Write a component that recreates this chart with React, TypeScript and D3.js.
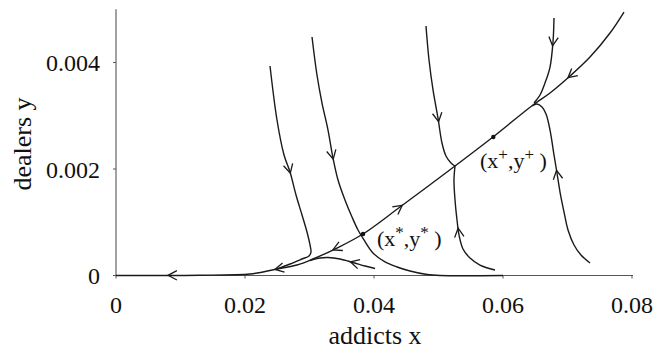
import React from "react";
import * as d3 from "d3";

type P = [number, number];

// trajectories (addicts x, dealers y), ordered in direction of flow where relevant
const separatrix: P[] = [
  [0.07876, 0.004948], [0.07659, 0.004554], [0.07349, 0.004103], [0.07039, 0.003746],
  [0.06729, 0.003427], [0.06465, 0.003202], [0.05845, 0.002601], [0.05256, 0.002056],
  [0.04403, 0.001286], [0.03829, 0.000779], [0.03426, 0.000516], [0.03054, 0.00031],
  [0.02806, 0.000197], [0.02496, 0.000122], [0.02279, 0.000066], [0.02078, 0.000028],
  [0.01302, 0.000004], [0, 0],
];
const trajA: P[] = [
  [0.02388, 0.003934], [0.02496, 0.00292], [0.02605, 0.002263], [0.02698, 0.001944],
  [0.02791, 0.001512], [0.02884, 0.001136], [0.02961, 0.000817], [0.03008, 0.000573],
  [0.03023, 0.000441], [0.02992, 0.000366], [0.02884, 0.00031], [0.02698, 0.000216],
  [0.02496, 0.000122],
];
const trajB: P[] = [
  [0.03039, 0.004479], [0.03116, 0.003765], [0.03194, 0.003239], [0.03287, 0.002732],
  [0.03364, 0.002207], [0.03442, 0.001793], [0.0355, 0.001418], [0.03659, 0.001099],
  [0.03752, 0.000854], [0.03845, 0.000667], [0.03984, 0.000423], [0.04171, 0.000254],
  [0.04357, 0.00016], [0.04558, 0.000085], [0.04822, 0.000019], [0.05023, 0], [0.06, 0],
];
const trajCTop: P[] = [
  [0.04806, 0.004685], [0.04853, 0.004047], [0.04915, 0.003484], [0.04992, 0.002958],
  [0.05054, 0.002488], [0.05116, 0.002244], [0.05194, 0.002113], [0.05256, 0.002056],
];
const trajCBottom: P[] = [
  [0.05876, 0.000103], [0.05643, 0.000197], [0.05488, 0.000329], [0.0538, 0.000498],
  [0.05318, 0.000761], [0.05287, 0.001042], [0.05256, 0.001418], [0.0524, 0.001793],
  [0.05256, 0.002056],
];
const trajDTop: P[] = [
  [0.06791, 0.004836], [0.06775, 0.004385], [0.06729, 0.003915], [0.06651, 0.003615],
  [0.06574, 0.00339], [0.06481, 0.003239],
];
const trajDBottom: P[] = [
  [0.07349, 0.000235], [0.07209, 0.000385], [0.07101, 0.000573], [0.07008, 0.000854],
  [0.06946, 0.001192], [0.06884, 0.001568], [0.06837, 0.001925], [0.06791, 0.002263],
  [0.06729, 0.002732], [0.06667, 0.003033], [0.06605, 0.003164], [0.06527, 0.003221],
  [0.0645, 0.003183],
];
const trajE: P[] = [
  [0.04016, 0.000131], [0.0386, 0.000178], [0.03674, 0.000244], [0.03473, 0.00031],
  [0.03287, 0.000338], [0.03163, 0.000329], [0.03008, 0.000282],
];

const curves: P[][] = [separatrix, trajA, trajB, trajCTop, trajCBottom, trajDTop, trajDBottom, trajE];

// arrows: [curve, fractional index along curve, direction]
const arrows: [P[], number, number][] = [
  [separatrix, 3.1, 1],
  [separatrix, 7.96, -1],
  [separatrix, 10.17, 1],
  [separatrix, 13.15, 1],
  [separatrix, 16.38, 1],
  [trajA, 3.05, 1],
  [trajB, 4.05, 1],
  [trajCTop, 3.15, 1],
  [trajCBottom, 4.45, 1],
  [trajDTop, 1.15, 1],
  [trajDBottom, 6.15, 1],
  [trajE, 2.2, 1],
];

const equilibria: P[] = [[0.0383, 0.00078], [0.0585, 0.0026]];
const xTicks = [0, 0.02, 0.04, 0.06, 0.08];
const xTickLabels = ["0", "0.02", "0.04", "0.06", "0.08"];
const yTicks = [0, 0.002, 0.004];
const yTickLabels = ["0", "0.002", "0.004"];

export default function App() {
  const x = d3.scaleLinear().domain([0, 0.08]).range([116, 632]);
  const y = d3.scaleLinear().domain([0, 0.005]).range([275.5, 9.25]);
  const line = d3
    .line<P>()
    .x((d) => x(d[0]))
    .y((d) => y(d[1]))
    .curve(d3.curveCatmullRom.alpha(0.5));

  const arrowPath = (c: P[], t: number, dir: number) => {
    const i = Math.min(Math.floor(t), c.length - 2);
    const f = t - i;
    const x0 = x(c[i][0]), y0 = y(c[i][1]);
    const x1 = x(c[i + 1][0]), y1 = y(c[i + 1][1]);
    const tx = x0 + (x1 - x0) * f, ty = y0 + (y1 - y0) * f;
    let dx = (x1 - x0) * dir, dy = (y1 - y0) * dir;
    const len = Math.hypot(dx, dy) || 1;
    dx /= len; dy /= len;
    const L = 10, a = (28 * Math.PI) / 180;
    const w = (s: number) => {
      const c2 = Math.cos(s * a), s2 = Math.sin(s * a);
      const rx = dx * c2 - dy * s2, ry = dx * s2 + dy * c2;
      return [tx - L * rx, ty - L * ry];
    };
    const w1 = w(1), w2 = w(-1);
    return `M${w1[0]},${w1[1]}L${tx},${ty}L${w2[0]},${w2[1]}`;
  };

  const font = "'Liberation Serif', 'Times New Roman', serif";
  const x0 = x(0), yb = y(0);

  return (
    <svg width={656} height={361} style={{ position: "absolute", left: 0, top: 0, background: "#fff" }}
      fontFamily={font}>
      {/* axes */}
      <line x1={x0} y1={y(0.005)} x2={x0} y2={yb} stroke="#555" strokeWidth={1.1} />
      <line x1={x0} y1={yb} x2={633} y2={yb} stroke="#555" strokeWidth={1.1} />
      {yTicks.map((t) => (
        <line key={"yt" + t} x1={x0 - 3} x2={x0} y1={y(t)} y2={y(t)} stroke="#555" strokeWidth={1} />
      ))}
      {xTicks.map((t) => (
        <line key={"xt" + t} x1={x(t)} x2={x(t)} y1={yb} y2={yb + 3} stroke="#555" strokeWidth={1} />
      ))}
      {yTicks.map((t, i) => (
        <text key={"yl" + t} x={100} y={y(t) + 8.5} textAnchor="end" fontSize={24} fill="#111">
          {yTickLabels[i]}
        </text>
      ))}
      {xTicks.map((t, i) => (
        <text key={"xl" + t} x={x(t)} y={313} textAnchor="middle" fontSize={24} fill="#111">
          {xTickLabels[i]}
        </text>
      ))}
      <text x={375} y={344} textAnchor="middle" fontSize={26} fill="#111">addicts x</text>
      <text transform="translate(31,144) rotate(-90)" textAnchor="middle" fontSize={26} fill="#111">
        dealers y
      </text>

      {/* trajectories */}
      {curves.map((c, i) => (
        <path key={"c" + i} d={line(c) || ""} fill="none" stroke="#1a1a1a" strokeWidth={1.4} />
      ))}
      {arrows.map(([c, t, dir], i) => (
        <path key={"a" + i} d={arrowPath(c, t, dir)} fill="none" stroke="#1a1a1a" strokeWidth={1.3} />
      ))}
      {equilibria.map((p, i) => (
        <circle key={"e" + i} cx={x(p[0])} cy={y(p[1])} r={2.2} fill="#111" />
      ))}

      {/* labels */}
      <text x={377} y={246} fontSize={22} fill="#111">
        (x<tspan dy={-8} fontSize={17}>*</tspan><tspan dy={8}>,y</tspan>
        <tspan dy={-8} fontSize={17}>*</tspan><tspan dy={8}> )</tspan>
      </text>
      <text x={480} y={168} fontSize={22} fill="#111">
        (x<tspan dy={-8} fontSize={17}>+</tspan><tspan dy={8}>,y</tspan>
        <tspan dy={-8} fontSize={17}>+</tspan><tspan dy={8}> )</tspan>
      </text>
    </svg>
  );
}
